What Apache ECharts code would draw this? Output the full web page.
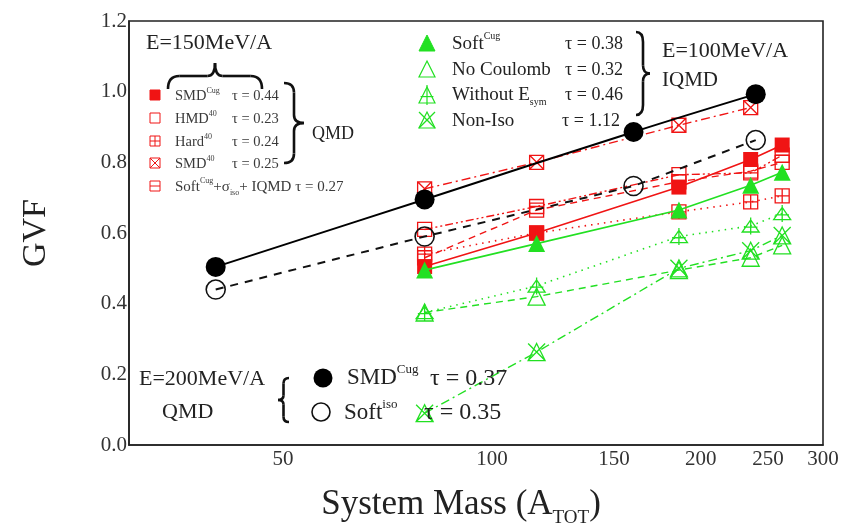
<!DOCTYPE html>
<html><head><meta charset="utf-8">
<script src="https://cdn.jsdelivr.net/npm/echarts@6/dist/echarts.min.js"></script>
<style>html,body{margin:0;padding:0;background:#fff}#c{width:842px;height:527px}</style>
</head><body><div id="c"></div>
<script>
// ---- data ----
const xTickValues = [50, 100, 150, 200, 250, 300];
const massBlack = [40, 80, 160, 240];
const smdCug200 = [0.504, 0.695, 0.886, 0.993];
const softIso200 = [0.44, 0.59, 0.733, 0.863];

const massRed = [80, 116, 186, 236, 262];
const smdCug150 = [0.505, 0.60, 0.73, 0.808, 0.849];
const hmd40 = [0.53, 0.665, 0.745, 0.775, 0.80];
const hard40 = [0.54, 0.60, 0.66, 0.688, 0.705];
const smd40 = [0.725, 0.80, 0.905, 0.955, null];
const softIqmd150 = [0.61, 0.675, 0.765, 0.77, 0.82];

const massGreen = [80, 116, 186, 236, 262];
const softCug100 = [0.495, 0.57, 0.665, 0.735, 0.772];
const noCoulomb100 = [0.375, 0.42, 0.495, 0.53, 0.565];
const withoutEsym100 = [0.375, 0.45, 0.59, 0.62, 0.655];
const nonIso100 = [0.09, 0.263, 0.50, 0.55, 0.593];

// ---- styling ----
const F = 'Liberation Serif';
const RED = '#f01414';
const GREEN = '#22e022';
const SQ = 'path://M0,0H10V10H0Z';
const SQ_PLUS = 'path://M0,0H10V10H0Z M5,0V10 M0,5H10';
const SQ_X = 'path://M0,0H10V10H0Z M0,0L10,10 M10,0L0,10';
const SQ_BAR = 'path://M0,0H10V10H0Z M0,5H10';
const TRI = 'path://M5,0L10,10H0Z';
const TRI_PLUS = 'path://M5,0L10,10H0Z M5,-2V12 M1,6H9';
const TRI_X = 'path://M5,0L10,10H0Z M0,0L10,10 M10,0L0,10';

function pairs(xs, ys) {
  const out = [];
  xs.forEach((x, i) => { if (ys[i] != null) out.push([x, ys[i]]); });
  return out;
}
function ser(name, xs, ys, color, symbol, size, filled, lineType, lw, smooth, z) {
  return {
    name, type: 'line', data: pairs(xs, ys), smooth: smooth || false, z: z || 2,
    symbol, symbolSize: size, showSymbol: true,
    itemStyle: { color: filled ? color : 'rgba(255,255,255,0)', borderColor: color, borderWidth: filled ? 0 : 1.3, opacity: 1 },
    lineStyle: { color, width: lw, type: lineType },
    emphasis: { disabled: true }, animation: false
  };
}
const DASH = [7, 5], DOT = [1.5, 5], DASHDOT = [9, 4, 2, 4], DASHDOT2 = [8, 3, 2, 3, 2, 3];

const series = [
  ser('SMD Cug 150', massRed, smdCug150, RED, SQ, 15, true, 'solid', 1.6, false, 3),
  ser('HMD40', massRed, hmd40, RED, SQ, 14, false, DASH, 1.4, false, 3),
  ser('Hard40', massRed, hard40, RED, SQ_PLUS, 14, false, DOT, 1.6, false, 3),
  ser('SMD40', massRed, smd40, RED, SQ_X, 14, false, DASHDOT, 1.4, false, 3),
  ser('Soft IQMD', massRed, softIqmd150, RED, SQ_BAR, 14, false, DASHDOT2, 1.4, false, 3),
  ser('Soft Cug 100', massGreen, softCug100, GREEN, TRI, 17, true, 'solid', 1.6, false, 4),
  ser('No Coulomb', massGreen, noCoulomb100, GREEN, TRI, 17, false, DASH, 1.4, false, 4),
  ser('Without Esym', massGreen, withoutEsym100, GREEN, TRI_PLUS, 17, false, DOT, 1.6, false, 4),
  ser('Non-Iso', massGreen, nonIso100, GREEN, TRI_X, 17, false, DASHDOT, 1.4, false, 4),
  ser('SMD Cug 200', massBlack, smdCug200, '#000', 'circle', 20, true, 'solid', 2, 0.4, 5),
  ser('Soft iso 200', massBlack, softIso200, '#111', 'circle', 19, false, [8, 7], 2, false, 5)
];
series[10].itemStyle.borderWidth = 1.6;

// ---- annotation helpers ----
function richStyles(size, color) {
  const c = color || '#222';
  return {
    n: { fontFamily: F, fontSize: size, lineHeight: Math.round(size * 1.3), fill: c, color: c, verticalAlign: 'middle' },
    sup: { fontFamily: F, fontSize: Math.round(size * 0.55), lineHeight: Math.round(size * 0.55), fill: c, color: c, verticalAlign: 'top' },
    sub: { fontFamily: F, fontSize: Math.round(size * 0.55), lineHeight: Math.round(size * 0.55), fill: c, color: c, verticalAlign: 'bottom' }
  };
}
function txt(x, y, text, size, opts) {
  opts = opts || {};
  return {
    type: 'text', x, y, rotation: opts.rotation || 0, z: 100,
    style: {
      text, rich: richStyles(size, opts.color), fontFamily: F, fontSize: size,
      fill: opts.color || '#222', align: opts.align || 'left', verticalAlign: 'middle'
    }
  };
}
function seg(x1, y1, x2, y2, color, lw) {
  return { type: 'line', z: 100, shape: { x1, y1, x2, y2 }, style: { stroke: color, lineWidth: lw } };
}
function qc(x1, y1, cx, cy, x2, y2, color, lw) {
  return { type: 'bezierCurve', z: 100, shape: { x1, y1, x2, y2, cpx1: cx, cpy1: cy }, style: { stroke: color, fill: null, lineWidth: lw } };
}
function brace(x, y, w, h, dir) {
  const c = '#111', lw = 2.6;
  if (dir === 'right' || dir === 'left') {
    const s = dir === 'right' ? 1 : -1;
    const x0 = dir === 'right' ? x : x + w;
    const xm = x0 + s * w * 0.5, xt = x0 + s * w;
    const ym = y + h / 2;
    return [
      qc(x0, y, xm, y, xm, y + h * 0.12, c, lw),
      seg(xm, y + h * 0.12, xm, ym - h * 0.1, c, lw),
      qc(xm, ym - h * 0.1, xm, ym, xt, ym, c, lw),
      qc(xt, ym, xm, ym, xm, ym + h * 0.1, c, lw),
      seg(xm, ym + h * 0.1, xm, y + h - h * 0.12, c, lw),
      qc(xm, y + h - h * 0.12, xm, y + h, x0, y + h, c, lw)
    ];
  }
  const y0 = y + h, ym = y + h * 0.5, yt = y, xm = x + w / 2;
  return [
    qc(x, y0, x, ym, x + w * 0.12, ym, c, lw),
    seg(x + w * 0.12, ym, xm - w * 0.08, ym, c, lw),
    qc(xm - w * 0.08, ym, xm, ym, xm, yt, c, lw),
    qc(xm, yt, xm, ym, xm + w * 0.08, ym, c, lw),
    seg(xm + w * 0.08, ym, x + w - w * 0.12, ym, c, lw),
    qc(x + w - w * 0.12, ym, x + w, ym, x + w, y0, c, lw)
  ];
}
function icon(cx, cy, size, kind, color, filled, lw) {
  const s = size / 2, els = [];
  const st = { fill: filled ? color : null, stroke: color, lineWidth: lw };
  if (kind.startsWith('sq')) {
    els.push({ type: 'rect', z: 100, shape: { x: cx - s, y: cy - s, width: size, height: size }, style: st });
    if (kind === 'sqplus') { els.push(seg(cx, cy - s, cx, cy + s, color, lw)); els.push(seg(cx - s, cy, cx + s, cy, color, lw)); }
    if (kind === 'sqx') { els.push(seg(cx - s, cy - s, cx + s, cy + s, color, lw)); els.push(seg(cx + s, cy - s, cx - s, cy + s, color, lw)); }
    if (kind === 'sqbar') { els.push(seg(cx - s, cy, cx + s, cy, color, lw)); }
  } else {
    els.push({ type: 'polygon', z: 100, shape: { points: [[cx, cy - s], [cx + s, cy + s], [cx - s, cy + s]] }, style: st });
    if (kind === 'triplus') { els.push(seg(cx, cy - s - 2, cx, cy + s + 2, color, lw)); els.push(seg(cx - s * 0.8, cy + s * 0.2, cx + s * 0.8, cy + s * 0.2, color, lw)); }
    if (kind === 'trix') { els.push(seg(cx - s, cy - s, cx + s, cy + s, color, lw)); els.push(seg(cx + s, cy - s, cx - s, cy + s, color, lw)); }
  }
  return els;
}

const LC = '#3a3a3a';
const graphic = [
  txt(36, 233, '{n|GVF}', 34, { rotation: Math.PI / 2, align: 'center', color: '#222' }),
  txt(461, 505, '{n|System Mass (A}{sub|TOT}{n|)}', 35, { align: 'center' }),
  txt(146, 43, '{n|E=150MeV/A}', 22),
  ...brace(168, 63, 94, 26, 'up'),
  ...icon(155, 95, 10, 'sq', RED, true, 1),
  ...icon(155, 118, 10, 'sq', RED, false, 1),
  ...icon(155, 141, 10, 'sqplus', RED, false, 1),
  ...icon(155, 163, 10, 'sqx', RED, false, 1),
  ...icon(155, 186, 10, 'sqbar', RED, false, 1),
  txt(175, 96, '{n|SMD}{sup|Cug}', 14.5, { color: LC }),
  txt(175, 119, '{n|HMD}{sup|40}', 14.5, { color: LC }),
  txt(175, 142, '{n|Hard}{sup|40}', 14.5, { color: LC }),
  txt(175, 164, '{n|SMD}{sup|40}', 14.5, { color: LC }),
  txt(232, 96, '{n|τ = 0.44}', 14.5, { color: LC }),
  txt(232, 119, '{n|τ = 0.23}', 14.5, { color: LC }),
  txt(232, 142, '{n|τ = 0.24}', 14.5, { color: LC }),
  txt(232, 164, '{n|τ = 0.25}', 14.5, { color: LC }),
  txt(175, 187, '{n|Soft}{sup|Cug}{n|+σ}{sub|iso}{n|+ IQMD τ = 0.27}', 15, { color: LC }),
  ...brace(284, 83, 20, 80, 'right'),
  txt(312, 134, '{n|QMD}', 18),
  ...icon(427, 43, 16, 'tri', GREEN, true, 1),
  ...icon(427, 69, 16, 'tri', GREEN, false, 1.2),
  ...icon(427, 95, 16, 'triplus', GREEN, false, 1.2),
  ...icon(427, 120, 16, 'trix', GREEN, false, 1.2),
  txt(452, 44, '{n|Soft}{sup|Cug}', 19),
  txt(452, 70, '{n|No Coulomb}', 19),
  txt(452, 95, '{n|Without E}{sub|sym}', 19),
  txt(452, 121, '{n|Non-Iso}', 19),
  txt(623, 44, '{n|τ = 0.38}', 18, { align: 'right' }),
  txt(623, 70, '{n|τ = 0.32}', 18, { align: 'right' }),
  txt(623, 95, '{n|τ = 0.46}', 18, { align: 'right' }),
  txt(620, 121, '{n|τ = 1.12}', 18, { align: 'right' }),
  ...brace(636, 32, 14, 83, 'right'),
  txt(662, 51, '{n|E=100MeV/A}', 22),
  txt(662, 80, '{n|IQMD}', 21),
  txt(139, 379, '{n|E=200MeV/A}', 22),
  txt(162, 412, '{n|QMD}', 22),
  ...brace(278, 378, 11, 44, 'left'),
  { type: 'circle', z: 100, shape: { cx: 323, cy: 378, r: 9.5 }, style: { fill: '#000' } },
  { type: 'circle', z: 100, shape: { cx: 321, cy: 412, r: 9 }, style: { fill: null, stroke: '#111', lineWidth: 1.6 } },
  txt(347, 378, '{n|SMD}{sup|Cug}', 23),
  txt(430, 379, '{n|τ = 0.37}', 24),
  txt(344, 413, '{n|Soft}{sup|iso}', 23),
  txt(424, 413, '{n|τ = 0.35}', 24)
];

const chart = echarts.init(document.getElementById('c'), null, { renderer: 'canvas' });
chart.setOption({
  animation: false,
  backgroundColor: '#fff',
  grid: { left: 129, right: 19, top: 21, bottom: 82, show: true, borderColor: '#222', borderWidth: 1.6, backgroundColor: 'transparent' },
  xAxis: {
    type: 'log', logBase: 10, min: 30, max: 300,
    axisLine: { show: true, lineStyle: { color: '#222', width: 1.6 } },
    axisTick: { show: false },
    splitLine: { show: false },
    minorTick: { show: false },
    axisLabel: { customValues: xTickValues, fontFamily: F, fontSize: 21, color: '#333', margin: 4, formatter: v => String(Math.round(v)) }
  },
  yAxis: {
    type: 'value', min: 0, max: 1.2, interval: 0.2,
    axisLine: { show: true, lineStyle: { color: '#222', width: 1.6 } },
    axisTick: { show: false },
    splitLine: { show: false },
    axisLabel: { fontFamily: F, fontSize: 21, color: '#333', margin: 2, formatter: v => v.toFixed(1) }
  },
  series,
  graphic
});
</script>
</body></html>
